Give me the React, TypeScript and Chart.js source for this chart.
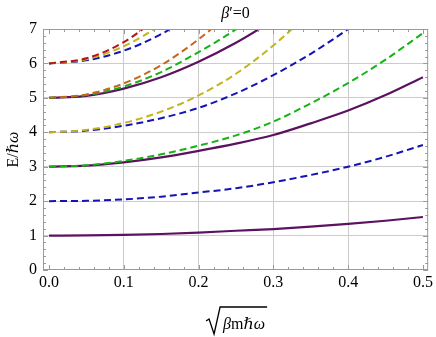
import React, { useEffect, useRef } from "react";
import { Chart, registerables } from "chart.js";
Chart.register(...registerables);

const xs = [0, 0.05, 0.1, 0.15, 0.2, 0.25, 0.3, 0.35, 0.4, 0.45, 0.5];
const purple1 = [1, 1.005, 1.02, 1.045, 1.087, 1.14, 1.19, 1.26, 1.34, 1.43, 1.54];
const blue2 = [2, 2.01, 2.05, 2.13, 2.25, 2.375, 2.55, 2.76, 3.0, 3.29, 3.63];
const purple3 = [3, 3.03, 3.125, 3.27, 3.46, 3.67, 3.92, 4.26, 4.63, 5.08, 5.6];
const green3 = [3, 3.04, 3.17, 3.36, 3.61, 3.91, 4.31, 4.84, 5.43, 6.11, 6.88];
const blue4 = [4, 4.05, 4.19, 4.41, 4.71, 5.13, 5.66, 6.28, 7.0, 7.8];
const yellow4 = [4, 4.07, 4.27, 4.6, 5.07, 5.7, 6.52, 7.5];
const purple5 = [5, 5.06, 5.27, 5.6, 6.05, 6.6, 7.25];
const green5 = [5, 5.08, 5.33, 5.75, 6.33, 6.99, 7.8];
const orange5 = [5, 5.1, 5.42, 5.95, 6.7, 7.6];
const blue6 = [6, 6.09, 6.37, 6.85, 7.5];
const yellow6 = [6, 6.12, 6.5, 7.1];
const red6 = [6, 6.15, 6.62, 7.4];

const xTicks = [0, 0.1, 0.2, 0.3, 0.4, 0.5];

const PURPLE = "#5c1260";
const BLUE = "#1414b4";
const GREEN = "#14b414";
const YELLOW = "#c4b41c";
const ORANGE = "#c4661c";
const RED = "#b41414";
const SERIF = "'Liberation Serif', 'DejaVu Serif', serif";

const pts = (ys: number[]) => ys.map((v, i) => ({ x: xs[i], y: v }));

const ds = (ys: number[], color: string, dashed: boolean) => ({
  data: pts(ys),
  borderColor: color,
  backgroundColor: color,
  borderWidth: dashed ? 2 : 2.2,
  borderDash: dashed ? [7, 4] : [],
  pointRadius: 0,
  cubicInterpolationMode: "monotone" as const,
  fill: false,
});

const decor = {
  id: "decor",
  afterDraw(chart: any) {
    const { ctx, chartArea: a, scales } = chart;
    const x = scales.x;
    const y = scales.y;
    ctx.save();
    const line = (x1: number, y1: number, x2: number, y2: number) => {
      ctx.beginPath();
      ctx.moveTo(x1, y1);
      ctx.lineTo(x2, y2);
      ctx.stroke();
    };
    ctx.strokeStyle = "#9a9a9a";
    ctx.lineWidth = 1;
    ctx.strokeRect(a.left + 0.5, a.top + 0.5, a.right - a.left - 1, a.bottom - a.top - 1);
    for (let i = 0; i <= 25; i++) {
      const px = Math.round(x.getPixelForValue(i * 0.02)) + 0.5;
      const len = i % 5 === 0 ? 5 : 3;
      line(px, a.bottom, px, a.bottom - len);
      line(px, a.top, px, a.top + len);
    }
    for (let i = 0; i <= 35; i++) {
      const py = Math.round(y.getPixelForValue(i * 0.2)) + 0.5;
      const len = i % 5 === 0 ? 5 : 3;
      line(a.left, py, a.left + len, py);
      line(a.right, py, a.right - len, py);
    }
    ctx.fillStyle = "#000";
    ctx.textBaseline = "alphabetic";
    // title
    const cx = (a.left + a.right) / 2;
    const f1 = "italic 16px " + SERIF;
    const f2 = "16px " + SERIF;
    ctx.font = f1;
    const wB = ctx.measureText("β").width;
    ctx.font = f2;
    const wR = ctx.measureText("′=0").width;
    let sx = cx - (wB + wR) / 2;
    ctx.font = f1;
    ctx.fillText("β", sx, 18);
    ctx.font = f2;
    ctx.fillText("′=0", sx + wB, 18);
    // y label
    ctx.save();
    ctx.translate(18, (a.top + a.bottom) / 2);
    ctx.rotate(-Math.PI / 2);
    ctx.font = f2;
    const wE = ctx.measureText("E/").width;
    ctx.font = f1;
    const wH = ctx.measureText("ℏω").width;
    let ys0 = -(wE + wH) / 2;
    ctx.font = f2;
    ctx.fillText("E/", ys0, 0);
    ctx.font = f1;
    ctx.fillText("ℏω", ys0 + wE, 0);
    ctx.restore();
    // x label with radical
    const parts: [string, string][] = [["β", f1], ["m", f2], ["ℏω", f1]];
    let tw = 0;
    for (const [t, f] of parts) { ctx.font = f; tw += ctx.measureText(t).width; }
    const radW = 15;
    const total = radW + 2 + tw;
    let rx = cx - total / 2;
    const base = 329;
    ctx.strokeStyle = "#000";
    ctx.lineWidth = 1.3;
    ctx.beginPath();
    ctx.moveTo(rx, base - 8);
    ctx.lineTo(rx + 3, base - 10);
    ctx.lineTo(rx + 8, base + 5);
    ctx.lineTo(rx + radW - 1, base - 22);
    ctx.lineTo(rx + total + 2, base - 22);
    ctx.stroke();
    let tx = rx + radW + 2;
    for (const [t, f] of parts) {
      ctx.font = f;
      ctx.fillText(t, tx, base);
      tx += ctx.measureText(t).width;
    }
    ctx.restore();
  },
};

export default function App() {
  const ref = useRef<HTMLCanvasElement | null>(null);
  useEffect(() => {
    if (!ref.current) return;
    Chart.defaults.font.family = SERIF;
    const chart = new Chart(ref.current, {
      type: "line",
      data: {
        datasets: [
          ds(red6, RED, true),
          ds(orange5, ORANGE, true),
          ds(yellow6, YELLOW, true),
          ds(yellow4, YELLOW, true),
          ds(green5, GREEN, true),
          ds(green3, GREEN, true),
          ds(blue6, BLUE, true),
          ds(blue4, BLUE, true),
          ds(blue2, BLUE, true),
          ds(purple5, PURPLE, false),
          ds(purple3, PURPLE, false),
          ds(purple1, PURPLE, false),
        ] as any,
      },
      options: {
        animation: false,
        responsive: true,
        maintainAspectRatio: false,
        layout: { padding: { top: 29, right: 6, left: 0, bottom: 0 } },
        plugins: { legend: { display: false }, tooltip: { enabled: false }, title: { display: false } },
        scales: {
          x: {
            type: "linear",
            min: -0.008,
            max: 0.507,
            afterBuildTicks: (s: any) => {
              s.ticks = xTicks.map((v) => ({ value: v }));
            },
            afterFit: (s: any) => {
              s.height = 67;
            },
            ticks: {
              autoSkip: false,
              maxRotation: 0,
              padding: 3,
              color: "#000",
              font: { size: 16, family: SERIF },
              callback: (v: any) => Number(v).toFixed(1),
            },
            grid: {
              drawTicks: false,
              lineWidth: 1,
              color: (c: any) =>
                c.tick && c.tick.value > 0.001 && c.tick.value < 0.499 ? "#cccccc" : "rgba(0,0,0,0)",
            },
            border: { display: false },
          },
          y: {
            min: 0,
            max: 7,
            afterFit: (s: any) => {
              s.width = 43;
            },
            ticks: {
              stepSize: 1,
              padding: 6,
              color: "#000",
              font: { size: 16, family: SERIF },
              callback: (v: any) => String(v),
            },
            grid: {
              drawTicks: false,
              lineWidth: 1,
              color: (c: any) =>
                c.tick && c.tick.value > 0.5 && c.tick.value < 6.5 ? "#cccccc" : "rgba(0,0,0,0)",
            },
            border: { display: false },
          },
        },
      },
      plugins: [decor],
    });
    return () => chart.destroy();
  }, []);
  return (
    <div style={{ position: "fixed", left: 0, top: 0, width: 436, height: 337, background: "#fff" }}>
      <canvas ref={ref} />
    </div>
  );
}
